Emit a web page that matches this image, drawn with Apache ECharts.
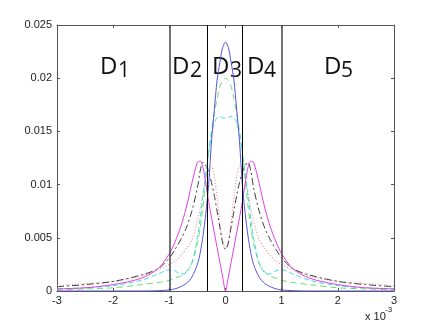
<!DOCTYPE html>
<html>
<head>
<meta charset="utf-8">
<script src="https://cdn.jsdelivr.net/npm/echarts@6/dist/echarts.min.js"></script>
<style>
	html, body { margin: 0; padding: 0; background: #fff; }
	#chart { width: 436px; height: 328px; }
</style>
</head>
<body>
<div id="chart"></div>
<script>
// x positions (x 10^-3)
const xValues = [-3, -2.5, -2, -1.5, -1.2, -1, -0.9, -0.8, -0.7, -0.6, -0.5, -0.45, -0.4, -0.35, -0.3, -0.25, -0.2, -0.15, -0.1, -0.05,
	0, 0.05, 0.1, 0.15, 0.2, 0.25, 0.3, 0.35, 0.4, 0.45, 0.5, 0.6, 0.7, 0.8, 0.9, 1, 1.2, 1.5, 2, 2.5, 3];

// curves
const blueValues = [0, 0, 0, 0, 0.00003, 0.0001, 0.0002, 0.0004, 0.0007, 0.0013, 0.0025, 0.0036, 0.0052, 0.0073, 0.0100, 0.0140, 0.0170, 0.0198, 0.0215, 0.0229,
	0.0234, 0.0229, 0.0215, 0.0198, 0.0170, 0.0140, 0.0100, 0.0073, 0.0052, 0.0036, 0.0025, 0.0013, 0.0007, 0.0004, 0.0002, 0.0001, 0.00003, 0, 0, 0, 0];
const magentaValues = [0.0002, 0.0003, 0.0006, 0.0012, 0.0021, 0.0035, 0.0046, 0.0060, 0.0078, 0.0101, 0.0121, 0.0122, 0.0116, 0.0101, 0.0084, 0.0069, 0.0055, 0.0041, 0.0027, 0.0013,
	0, 0.0013, 0.0027, 0.0041, 0.0055, 0.0069, 0.0084, 0.0101, 0.0116, 0.0122, 0.0121, 0.0101, 0.0078, 0.0060, 0.0046, 0.0035, 0.0021, 0.0012, 0.0006, 0.0003, 0.0002];
const greyValues = [0.0004, 0.0006, 0.0009, 0.0015, 0.0021, 0.0031, 0.0039, 0.0048, 0.0059, 0.0075, 0.0097, 0.0113, 0.0121, 0.0118, 0.0112, 0.0102, 0.0090, 0.0075, 0.0060, 0.0045,
	0.0039, 0.0045, 0.0060, 0.0075, 0.0090, 0.0102, 0.0112, 0.0118, 0.0121, 0.0113, 0.0097, 0.0075, 0.0059, 0.0048, 0.0039, 0.0031, 0.0021, 0.0015, 0.0009, 0.0006, 0.0004];
const pinkValues = [0.0005, 0.0007, 0.0009, 0.0014, 0.0020, 0.0025, 0.0028, 0.0033, 0.0040, 0.0048, 0.0066, 0.0077, 0.0092, 0.0106, 0.0115, 0.0117, 0.0108, 0.0088, 0.0065, 0.0047,
	0.0040, 0.0047, 0.0065, 0.0088, 0.0108, 0.0117, 0.0115, 0.0106, 0.0092, 0.0077, 0.0066, 0.0048, 0.0040, 0.0033, 0.0028, 0.0025, 0.0020, 0.0014, 0.0009, 0.0007, 0.0005];
const cyanValues = [0.0002, 0.0003, 0.0005, 0.0010, 0.0016, 0.0020, 0.0019, 0.0016, 0.0017, 0.0026, 0.0050, 0.0068, 0.0090, 0.0110, 0.0130, 0.0148, 0.0158, 0.0163, 0.0164, 0.0163,
	0.0162, 0.0163, 0.0164, 0.0163, 0.0158, 0.0148, 0.0130, 0.0110, 0.0090, 0.0068, 0.0050, 0.0026, 0.0017, 0.0016, 0.0019, 0.0020, 0.0016, 0.0010, 0.0005, 0.0003, 0.0002];
const greenValues = [0.0001, 0.0002, 0.0003, 0.0006, 0.0008, 0.0010, 0.0012, 0.0014, 0.0018, 0.0026, 0.0045, 0.0060, 0.0080, 0.0106, 0.0130, 0.0150, 0.0166, 0.0181, 0.0192, 0.0198,
	0.0200, 0.0198, 0.0192, 0.0181, 0.0166, 0.0150, 0.0130, 0.0106, 0.0080, 0.0060, 0.0045, 0.0026, 0.0018, 0.0014, 0.0012, 0.0010, 0.0008, 0.0006, 0.0003, 0.0002, 0.0001];

// region borders
const borders = [-1, -0.32, 0.29, 1];
const regionLabels = ['1', '2', '3', '4', '5'];

const chart = echarts.init(document.getElementById('chart'));

function pairs(ys) {
	return xValues.map((x, i) => [x, ys[i]]);
}

const frame = '#555';
const tickFont = 'Liberation Sans, Arial, sans-serif';

function curve(name, ys, color, type, width) {
	return {
		name: name,
		type: 'line',
		data: pairs(ys),
		showSymbol: false,
		smooth: 0.3,
		silent: true,
		lineStyle: { color: color, width: width || 1, type: type || 'solid' },
		z: 3
	};
}

// D labels: [left of D, left of subscript]
const dPos = [[100, 118], [172, 190], [212, 230], [247, 264], [324, 341]];
const graphics = [];
dPos.forEach((p, i) => {
	graphics.push({
		type: 'text', left: p[0], top: 55,
		style: { text: 'D', font: '24px "Open Sans", sans-serif', fill: '#111' }
	});
	graphics.push({
		type: 'text', left: p[1], top: 61,
		style: { text: regionLabels[i], font: '21px "Open Sans", sans-serif', fill: '#111' }
	});
});
graphics.push({
	type: 'text', left: 365, top: 311,
	style: { text: 'x 10', font: '11px ' + tickFont, fill: '#222' }
});
graphics.push({
	type: 'text', left: 385, top: 306,
	style: { text: '-3', font: '8px ' + tickFont, fill: '#222' }
});

const option = {
	animation: false,
	backgroundColor: '#fff',
	grid: { left: 57, right: 42, top: 25, bottom: 37 },
	xAxis: [{
		type: 'value', min: -3, max: 3, interval: 1, position: 'bottom',
		axisLine: { show: true, onZero: false, lineStyle: { color: frame, width: 1 } },
		axisTick: { show: true, inside: true, length: 3, lineStyle: { color: frame } },
		axisLabel: { margin: 4, color: '#222', fontSize: 11, fontFamily: tickFont },
		splitLine: { show: false }
	}, {
		type: 'value', min: -3, max: 3, interval: 1, position: 'top',
		axisLine: { show: true, onZero: false, lineStyle: { color: frame, width: 1 } },
		axisTick: { show: true, inside: true, length: 3, lineStyle: { color: frame } },
		axisLabel: { show: false },
		splitLine: { show: false }
	}],
	yAxis: [{
		type: 'value', min: 0, max: 0.025, interval: 0.005, position: 'left',
		axisLine: { show: true, onZero: false, lineStyle: { color: frame, width: 1 } },
		axisTick: { show: true, inside: true, length: 3, lineStyle: { color: frame } },
		axisLabel: { margin: 5, color: '#222', fontSize: 11, fontFamily: tickFont },
		splitLine: { show: false }
	}, {
		type: 'value', min: 0, max: 0.025, interval: 0.005, position: 'right',
		axisLine: { show: true, onZero: false, lineStyle: { color: frame, width: 1 } },
		axisTick: { show: true, inside: true, length: 3, lineStyle: { color: frame } },
		axisLabel: { show: false },
		splitLine: { show: false }
	}],
	series: [
		curve('pink', pinkValues, '#e8959a', [1, 2], 1.2),
		curve('grey', greyValues, '#404040', [7, 3, 2, 3]),
		curve('green', greenValues, '#66e066', [6, 4]),
		curve('cyan', cyanValues, '#44d8e8', [5, 3]),
		curve('magenta', magentaValues, '#e040e0'),
		curve('blue', blueValues, '#5555dd'),
		{
			type: 'line',
			data: [],
			silent: true,
			markLine: {
				symbol: 'none',
				silent: true,
				animation: false,
				label: { show: false },
				data: borders.map((b) => ({
					xAxis: b,
					lineStyle: {
						type: 'solid',
						color: Math.abs(b) === 1 ? '#444' : '#000',
						width: Math.abs(b) === 1 ? 1.5 : 1
					}
				}))
			}
		}
	],
	graphic: graphics
};

chart.setOption(option);
</script>
</body>
</html>
